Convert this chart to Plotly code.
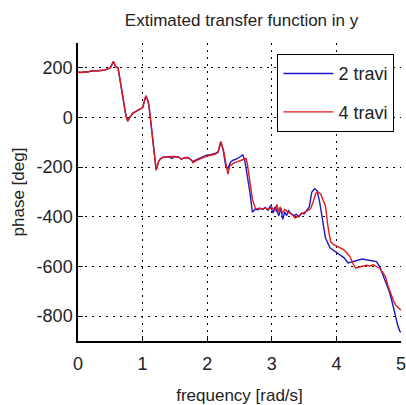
import plotly.graph_objects as go

# Phase of the estimated transfer function in y, for the two set-ups
freq_2travi = [0.00, 0.05, 0.10, 0.15, 0.20, 0.25, 0.30, 0.35, 0.40, 0.45, 0.50, 0.55, 0.58, 0.62,
               0.66, 0.70, 0.74, 0.77, 0.80, 0.85, 0.90, 0.95, 1.00, 1.05, 1.08, 1.10, 1.14, 1.17,
               1.21, 1.25, 1.28, 1.32, 1.40, 1.45, 1.50, 1.56, 1.60, 1.65, 1.70, 1.75, 1.78, 1.82,
               1.88, 1.94, 1.99, 2.05, 2.12, 2.17, 2.21, 2.25, 2.29, 2.32, 2.36, 2.40, 2.45, 2.50,
               2.55, 2.58, 2.62, 2.66, 2.70, 2.74, 2.78, 2.82, 2.86, 2.90, 2.94, 2.98, 3.02, 3.05,
               3.08, 3.11, 3.14, 3.17, 3.20, 3.23, 3.26, 3.30, 3.34, 3.38, 3.42, 3.46, 3.50, 3.54,
               3.58, 3.62, 3.66, 3.70, 3.74, 3.78, 3.83, 3.90, 3.98, 4.06, 4.12, 4.18, 4.25, 4.32,
               4.40, 4.46, 4.54, 4.62, 4.67, 4.72, 4.77, 4.82, 4.86, 4.90, 4.93, 4.95, 4.98, 5.00]
phase_2travi = [182, 181, 184, 183, 187, 186, 188, 189, 190, 195, 200, 226, 205, 200,
                140, 70, 10, -15, 0, 18, 25, 30, 40, 87, 70, 45, -50, -140,
                -212, -175, -165, -160, -158, -165, -157, -160, -168, -162, -161, -170, -178, -172,
                -165, -158, -152, -150, -145, -138, -97, -135, -200, -205, -180, -172, -168, -160,
                -150, -170, -230, -300, -382, -370, -372, -366, -370, -362, -374, -355, -385, -360,
                -378, -395, -365, -410, -380, -395, -375, -388, -395, -390, -400, -385, -388, -375,
                -360, -300, -287, -294, -340, -403, -484, -525, -540, -552, -565, -586, -580, -575,
                -570, -573, -578, -580, -600, -634, -670, -702, -740, -784, -820, -838, -860, -865]

freq_4travi = [0.00, 0.05, 0.10, 0.15, 0.20, 0.25, 0.30, 0.35, 0.40, 0.45, 0.50, 0.55, 0.58, 0.62,
               0.66, 0.70, 0.74, 0.77, 0.80, 0.85, 0.90, 0.95, 1.00, 1.05, 1.08, 1.10, 1.14, 1.17,
               1.21, 1.25, 1.28, 1.32, 1.40, 1.48, 1.56, 1.60, 1.65, 1.70, 1.75, 1.78, 1.82, 1.88,
               1.94, 1.99, 2.05, 2.12, 2.17, 2.21, 2.25, 2.30, 2.32, 2.35, 2.40, 2.45, 2.50, 2.55,
               2.60, 2.62, 2.66, 2.70, 2.75, 2.80, 2.85, 2.90, 2.95, 3.00, 3.05, 3.08, 3.10, 3.13,
               3.16, 3.20, 3.24, 3.28, 3.32, 3.36, 3.40, 3.44, 3.48, 3.52, 3.56, 3.60, 3.64, 3.68,
               3.72, 3.76, 3.79, 3.83, 3.87, 3.91, 3.96, 4.01, 4.06, 4.11, 4.16, 4.21, 4.26, 4.30,
               4.35, 4.41, 4.47, 4.52, 4.57, 4.62, 4.67, 4.72, 4.76, 4.80, 4.84, 4.88, 4.92, 4.96, 5.00]
phase_4travi = [182, 181, 184, 183, 187, 186, 188, 189, 190, 195, 200, 226, 205, 200,
                140, 70, 10, -15, 0, 18, 25, 30, 40, 87, 70, 45, -50, -140,
                -212, -175, -165, -160, -158, -157, -160, -168, -162, -161, -170, -182, -175, -168,
                -160, -155, -152, -148, -140, -97, -130, -200, -228, -195, -185, -180, -176, -172,
                -165, -185, -260, -330, -369, -365, -368, -365, -370, -362, -375, -350, -380, -360,
                -385, -370, -378, -385, -392, -405, -398, -390, -385, -380, -375, -368, -340, -305,
                -300, -310, -330, -355, -440, -500, -512, -518, -525, -532, -545, -560, -590, -607,
                -602, -600, -595, -598, -593, -600, -607, -625, -640, -680, -710, -735, -756, -768, -776]

x_ticks = [0, 1, 2, 3, 4, 5]
x_tick_text = ["0", "1", "2", "3", "4", "5"]
y_ticks = [-800, -600, -400, -200, 0, 200]
y_tick_text = ["-800", "-600", "-400", "-200", "0", "200"]

FONT = "Liberation Sans, Arial, sans-serif"
INK = "#222"

fig = go.Figure()
fig.add_trace(go.Scatter(x=freq_2travi, y=phase_2travi, mode="lines", name="2 travi",
                         legendgroup="a", line=dict(color="#1a1ac8", width=1.4)))
fig.add_trace(go.Scatter(x=freq_4travi, y=phase_4travi, mode="lines", name="4 travi",
                         legendgroup="b", line=dict(color="#e01818", width=1.4)))

axis_common = dict(
    showline=True, linecolor="black", linewidth=1.5,
    ticks="inside", ticklen=5, tickcolor="black",
    showgrid=True, gridcolor="black", gridwidth=1, griddash="2px,5px",
    zeroline=False, mirror=False,
    ticklabeloverflow="allow",
    tickfont=dict(family=FONT, size=18, color=INK),
)

fig.update_layout(
    width=406, height=405,
    margin=dict(l=78, r=0, t=43, b=64),
    paper_bgcolor="white", plot_bgcolor="white",
    title=dict(text="Extimated transfer function in y", x=0.595, xanchor="center",
               y=0.95, yanchor="middle",
               font=dict(family=FONT, size=17, color=INK)),
    xaxis=dict(range=[0, 5], tickvals=x_ticks, ticktext=x_tick_text,
               title=dict(text="frequency [rad/s]", standoff=16,
                          font=dict(family=FONT, size=17, color=INK)),
               ticklabelstandoff=6, **axis_common),
    yaxis=dict(range=[-900, 300], tickvals=y_ticks, ticktext=y_tick_text,
               title=dict(text="phase [deg]", standoff=8,
                          font=dict(family=FONT, size=17, color=INK)),
               **axis_common),
    legend=dict(x=0.979, y=0.963, xanchor="right", yanchor="top",
                bgcolor="white", bordercolor="black", borderwidth=1.2,
                tracegroupgap=12, itemwidth=50,
                font=dict(family=FONT, size=18, color=INK)),
)

fig.write_html("out.html")
